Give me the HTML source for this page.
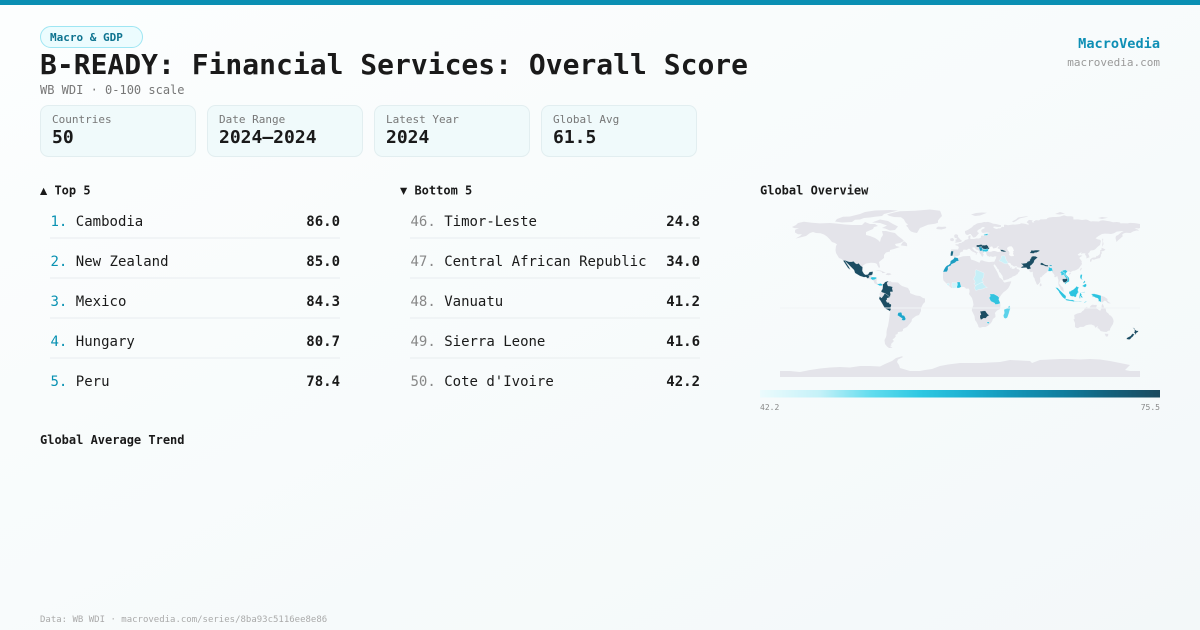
<!DOCTYPE html>
<html><head><meta charset="utf-8">
<style>
html,body{margin:0;padding:0;}
body{width:1200px;height:630px;overflow:hidden;background:#fafcfc;}
svg{display:block;}
text{font-family:"DejaVu Sans Mono","Liberation Mono",monospace;}
.b{font-weight:bold;}
</style></head>
<body>
<svg width="1200" height="630" viewBox="0 0 1200 630" xmlns="http://www.w3.org/2000/svg">
<defs>
<linearGradient id="bg" x1="0" y1="0" x2="1" y2="1">
<stop offset="0" stop-color="#fcfefe"/><stop offset="1" stop-color="#f3f8f9"/>
</linearGradient>
<linearGradient id="cb" x1="0" y1="0" x2="1" y2="0">
<stop offset="0" stop-color="#ecfbfd"/>
<stop offset="0.15" stop-color="#c4f1f8"/>
<stop offset="0.28" stop-color="#60dcee"/>
<stop offset="0.40" stop-color="#2ec8e2"/>
<stop offset="0.52" stop-color="#1cb0d1"/>
<stop offset="0.63" stop-color="#1496b8"/>
<stop offset="0.76" stop-color="#0f7d9d"/>
<stop offset="0.88" stop-color="#14607a"/>
<stop offset="1" stop-color="#1b4a5f"/>
</linearGradient>
</defs>
<rect width="1200" height="630" fill="url(#bg)"/>
<rect width="1200" height="5" fill="#0a8fb3"/>

<!-- badge -->
<rect x="40.5" y="26.5" width="102" height="21" rx="10.5" fill="#ecfcfe" stroke="#9ee6f3" stroke-width="1"/>
<text x="50" y="41" font-size="11" class="b" fill="#0e7490">Macro &amp; GDP</text>

<text x="40" y="74" font-size="28" class="b" fill="#1a1a1a">B-READY: Financial Services: Overall Score</text>
<text x="40" y="94" font-size="12" fill="#777">WB WDI · 0-100 scale</text>

<text x="1160" y="48" font-size="13.6" class="b" fill="#0e8fb5" text-anchor="end">MacroVedia</text>
<text x="1160" y="66" font-size="11" fill="#9a9a9a" text-anchor="end">macrovedia.com</text>

<!-- cards -->
<g fill="#f0fafb" stroke="#e2eef0" stroke-width="1">
<rect x="40.5" y="105.5" width="155" height="51" rx="8"/>
<rect x="207.5" y="105.5" width="155" height="51" rx="8"/>
<rect x="374.5" y="105.5" width="155" height="51" rx="8"/>
<rect x="541.5" y="105.5" width="155" height="51" rx="8"/>
</g>
<g font-size="11" fill="#777">
<text x="52" y="123">Countries</text>
<text x="219" y="123">Date Range</text>
<text x="386" y="123">Latest Year</text>
<text x="553" y="123">Global Avg</text>
</g>
<g font-size="18" class="b" fill="#1a1a1a">
<text x="52" y="143">50</text>
<text x="219" y="143">2024–2024</text>
<text x="386" y="143">2024</text>
<text x="553" y="143">61.5</text>
</g>

<!-- section headers -->
<g font-size="12" class="b" fill="#1a1a1a">
<text x="40" y="194.5">▲ Top 5</text>
<text x="400" y="194.5">▼ Bottom 5</text>
<text x="760" y="194.5">Global Overview</text>
<text x="40" y="444">Global Average Trend</text>
</g>

<!-- separators -->
<g stroke="#eef1f3" stroke-width="1.5">
<line x1="50" y1="238" x2="340" y2="238"/><line x1="50" y1="278" x2="340" y2="278"/>
<line x1="50" y1="318" x2="340" y2="318"/><line x1="50" y1="358" x2="340" y2="358"/>
<line x1="410" y1="238" x2="700" y2="238"/><line x1="410" y1="278" x2="700" y2="278"/>
<line x1="410" y1="318" x2="700" y2="318"/><line x1="410" y1="358" x2="700" y2="358"/>
</g>

<g font-size="14" fill="#1a1a1a">
<text x="50.5" y="226"><tspan fill="#0891b2">1. </tspan>Cambodia</text>
<text x="50.5" y="266"><tspan fill="#0891b2">2. </tspan>New Zealand</text>
<text x="50.5" y="306"><tspan fill="#0891b2">3. </tspan>Mexico</text>
<text x="50.5" y="346"><tspan fill="#0891b2">4. </tspan>Hungary</text>
<text x="50.5" y="386"><tspan fill="#0891b2">5. </tspan>Peru</text>
<text x="410.5" y="226"><tspan fill="#888">46. </tspan>Timor-Leste</text>
<text x="410.5" y="266"><tspan fill="#888">47. </tspan>Central African Republic</text>
<text x="410.5" y="306"><tspan fill="#888">48. </tspan>Vanuatu</text>
<text x="410.5" y="346"><tspan fill="#888">49. </tspan>Sierra Leone</text>
<text x="410.5" y="386"><tspan fill="#888">50. </tspan>Cote d'Ivoire</text>
</g>
<g font-size="14" class="b" fill="#1a1a1a" text-anchor="end">
<text x="340" y="226">86.0</text><text x="340" y="266">85.0</text><text x="340" y="306">84.3</text>
<text x="340" y="346">80.7</text><text x="340" y="386">78.4</text>
<text x="700" y="226">24.8</text><text x="700" y="266">34.0</text><text x="700" y="306">41.2</text>
<text x="700" y="346">41.6</text><text x="700" y="386">42.2</text>
</g>

<!-- map -->
<g transform="translate(960,293) scale(1,-1)">
<g fill="#e4e4ea">
<polygon points="-168,66 -164,68 -162,70 -156,71.3 -148,70.3 -140,69.6 -130,70 -124,69.5 -115,68.5 -108,68 -98,68 -95,71 -90,69 -85,69 -82,67 -86,66 -87,64 -94,61 -94,58 -90,57 -85,55 -82,53 -80,51 -79,55 -77,58 -78,62 -74,62 -70,61 -65,60 -62,57 -58,54 -56,52 -60,50 -65,49 -64,47 -60,46 -66,44 -70,43 -70,41.5 -74,40.5 -76,38 -76,35 -81,31 -80,26 -81,25 -82.5,27.5 -83,29 -85,30 -89,30.3 -94,29.5 -97,27.5 -97.5,22 -96,19 -94,18 -91,19 -90.5,21 -87,21.5 -88,18 -88.5,16 -84,15.8 -83.2,15 -83.5,11 -82,9 -79,9.5 -77.4,8.6 -78,7.3 -80.5,7.3 -82.5,8.2 -85.7,9.8 -86,11.5 -87.5,13 -91.5,14 -94,16 -96,15.7 -100,17 -105,20 -106,23 -109,26 -112,29 -114.8,31.8 -113,29 -111,26 -109.5,23 -112,25 -114,28 -116,31 -117,32.5 -118.5,34 -121,35 -122.5,37.5 -124,40 -124.5,43 -124,47 -123,48.5 -125,50 -128,51 -130.5,54 -133,56.5 -136,58.5 -139.5,59.8 -144,60 -147,61 -150,60 -152,58.5 -154,57 -158,56 -162,55 -164.5,54.5 -160,57 -158,58.7 -162,58.7 -165,60.5 -165,62.5 -164.5,63.5 -161,64.5 -166,65 -168,66"/>
<polygon points="-77.4,8.6 -76,9.5 -75,11 -72,12 -71,11 -70,12 -68,10.7 -64,10.6 -62,10.5 -60,8.5 -58,7 -55,6 -52,5 -50,1.5 -50,0 -48,-1 -44,-2.5 -40,-3 -37,-5 -35,-5.5 -35,-9 -37,-11 -39,-15 -39,-18 -41,-22 -44,-23 -48,-26 -48.5,-28.5 -50.5,-31 -53,-34 -55,-35 -57,-36 -57,-37.5 -58,-38.5 -62,-39 -62.5,-41 -65,-42 -64,-43 -65.5,-45 -67.5,-46.5 -66,-48 -69,-51 -68.5,-52.5 -70,-53 -67.5,-54.8 -71,-55 -73,-53.5 -75,-51 -75.5,-47 -74,-44 -73.5,-42 -73.5,-39 -73,-36 -72,-33 -71.5,-30 -71,-27 -70.5,-23 -70,-18.5 -71.5,-17.3 -75,-15.5 -76.5,-13 -78.5,-9.5 -80,-7 -81,-6 -80.5,-4 -80,-2.5 -80.5,-1 -80,0.5 -79,1.5 -78.5,2.5 -77.5,4 -77.2,7 -77.4,8.6"/>
<polygon points="-17,21 -17,15 -16.5,12.5 -15,11 -13,9 -11,7 -8,4.5 -5,5 -2,4.8 1,5.8 3,6.3 5,5.5 6,4.3 8.5,4.5 9.5,3 9.5,1 9,-1 10.5,-3 12,-5 13,-8.5 13.5,-12 12,-15.5 11.8,-17.5 13.5,-21 14.5,-23 15,-27 16.5,-29 18,-32 18.5,-34 20,-34.8 22.5,-34 25.5,-34 28,-32.7 30.5,-30.5 32,-28.5 32.9,-26 35.5,-24 35.3,-21.5 34.8,-20 37,-17.5 40,-16 40.5,-12 39.5,-8 39,-6 39.5,-4.5 41.5,-1.5 43.5,0.8 46,2.5 48,4.5 49.5,7 51,10.5 51.2,11.8 48,11.2 44.5,10.4 43.3,11.5 43,12.5 41,14.5 39.5,15.5 38.5,18 37.2,21 35.5,24 34,26.5 32.6,29.5 32.3,31.2 29,30.9 25,31.6 22,32.8 20.5,32.5 19.5,30.3 15,32.3 11,33.5 10,37 8,37 3,36.8 -1,35.5 -2,35 -5.5,35.8 -6.5,34 -9.5,32 -9.8,29.5 -11.5,28 -13,27.5 -14.5,26 -16,23.5 -17,21"/>
<polygon points="-9,37 -9.5,39 -8.8,42 -9,43.5 -6,43.6 -2,43.5 -1.5,44.5 -1.2,46 -2.5,47.3 -4.5,47.8 -4.5,48.7 -1.5,48.7 -1.3,49.7 1.5,50.2 2.5,51.1 4,51.6 5,53 7,53.5 8.5,54 8.3,55.5 8.5,57 10.5,57.7 10.5,56 10,54.8 11,54 14,54 16.5,54.6 19,54.5 21,55.5 21,57 22,57.6 23.5,57 24.5,58.5 23.5,59.2 28,59.5 30,60 27,60.5 22.8,60 21.5,61 21.3,63 23,64 25,65 24,66 22,65.7 21,64.6 19,63.6 17.5,62.5 17.3,61 19,60 18.5,59.3 16.5,57 15.8,56.1 14,55.5 12.8,55.8 12.5,56.6 11,58.5 11,59 9.5,59 8,58 6.5,58.2 5.5,59 5,60.5 5,62 6.5,62.5 8.5,63.5 10,64.5 12,65.8 13.5,67.5 15.5,68.5 17,69.5 19,70 21.5,70.3 24,71 26,70.9 28,71.1 31,70.3 33,69.4 36,69 41,67.7 41,66.2 38,66 34,66.5 33,65.8 34.8,64.5 37,64 38,64.6 40.3,64.6 42,66.3 44,66 44,68.3 46,68.2 48,67.7 53,68.5 55,68.4 58,68.8 60,69 61,69.8 65,69.3 68.3,68.2 69,69 66.7,70.6 67.3,71.5 68.5,72.8 69.3,73.1 72,72.8 72.8,72.2 71.8,71.4 72.8,70.4 74.3,70.7 73.4,71.8 75.5,72.3 75,72.8 76,72.9 79,72.6 80.5,73.6 83,73.6 86.8,73.9 87,74.6 89,75.5 93,76 96,76 100,76.4 104,77.7 107,76.8 111,76.7 113.3,76.2 113.5,73.5 118,73.6 122,73 126,73.5 128,73 129,72.2 131,71.5 132.5,71.8 136,71.6 139,71.5 140.5,72.4 143,72.7 150,71.6 153,70.8 157,71 160,70.5 160.5,69.6 163,69.7 167.5,69.6 170,70.1 175,69.9 180,69 180,65 178.5,64.5 177,64.7 174.5,64.6 178,63.4 179,62.3 176.5,62.5 173,61.5 170.5,60 166,60.3 164.5,59.9 163,59.2 162,58 163,57 162,56.1 160,54.3 158,52.6 156.5,51 155.5,55 156,57 158,58 161,60.5 163.7,62 160,61.7 156.7,61.4 154,59.8 151,59 148,59.3 145,59.4 142,59 138.5,57 135.5,54.7 137.5,53.8 140,53.2 141,52 140.5,50 140,48 138,46.5 136,44.5 135,43.5 133,42.8 131,42.6 130,42 129.5,40.8 128,39.4 129,37.5 129.5,35.8 127,34.7 126.3,34.5 126.5,36 126,37.5 125,38 125.5,39.5 124,39.8 122,39.5 121,38.8 121.6,40.9 120,40 118.5,39 117.6,38.5 119,37.3 120.8,37.8 122.5,37.2 120.5,36.1 119.3,35 120.5,33.5 121.8,31.7 121.5,30.4 122,29.8 121.5,28 120.5,27 119.5,25.5 118.7,24.5 117.3,23.6 116,22.9 114.2,22.3 113,22.2 111.5,21.5 110.5,20.4 109.8,21.4 108.5,21.7 106.7,20.7 105.9,19.8 105.7,18.8 107,17.3 108.3,16 109,15.3 109.3,13.5 109.2,11.6 108.3,11 106.7,10.4 105,8.6 104.8,9.6 105,10.5 103.5,10.6 102.6,12.2 101.7,12.7 100.9,12.6 100,13.4 100,12.3 99.2,10.3 99.2,9.2 100.3,8.3 101,6.9 102.1,6.2 103.3,4.9 103.5,2.8 104.2,1.6 103.5,1.2 101.4,2.8 100.3,4 100.2,5.3 98.5,7.9 98.3,10 98.5,13 97.8,14.8 97.6,16.1 97.2,16.9 95.4,15.7 94.2,16 94.6,17.3 94.3,18.2 93.5,19.4 92.4,20.7 92.1,21.2 91.8,22.2 90.3,21.8 89.7,22 88.9,21.7 87,21.5 86.5,20.2 85.1,19.5 83.9,18.3 82.2,17 82.2,16.6 81,15.5 80.3,15.9 80,15.1 80.2,13.8 80.3,11.7 79.9,10.4 79.3,10.3 78.9,9.6 79.2,9.2 78.3,8.9 77.5,8 76.6,8.9 75.7,11.3 74.9,12.7 74.6,14.6 73.5,16 73,17.9 72.8,19.2 72.8,20.4 72.6,21.4 71.2,20.8 70.5,20.9 69.2,22.1 69.6,22.5 69.3,22.8 68.2,23.7 67.4,23.9 66.4,25.4 64.5,25.2 62,25.2 61.5,25.1 59.6,25.4 57.4,25.7 56.5,27.1 55.7,26.9 54.7,26.5 53.5,26.8 52.5,27.6 51.5,27.9 50.1,30.1 49.6,30 48.9,30.3 48,30 47.7,29.4 48.4,28.6 48.8,27.7 49.3,27.5 49.5,27 50.2,26.7 50.1,25.9 50.5,25.3 50.8,24.8 51,26 51.6,25.8 51.6,25.2 51.6,24.2 52.6,24.2 54,24.1 55.4,25.4 56.1,26.1 56.4,26.4 56.5,25 56.4,24.9 57.4,23.9 58.7,23.6 59.5,22.7 59.8,22.3 59.3,21.4 58.5,20.4 58,20.5 57.8,19.1 57.7,18.9 56.6,18.6 56.3,17.9 55.3,17.6 55.3,17.2 54.2,17 53.6,16.7 52.4,16.4 52.2,15.9 51.2,15.2 49.6,14.7 48.7,14 47.4,13.6 45.9,13.3 45.1,12.9 44,12.6 43.5,12.6 43.2,13.2 43.3,13.8 43,14.6 42.6,15.7 42.8,16.3 42.3,17.1 42,17.9 41.2,18.7 40.9,19.5 40.2,20.2 39.1,21.3 39,22 38.5,23.7 37.5,24.3 37.2,25.1 36.6,26 36.2,26.6 35.6,27.4 35.1,28.1 34.6,28.1 34.9,29.4 34.2,28.4 33.9,27.6 33.1,28.4 32.4,29.9 32.3,31.3 34.3,31.2 35,32.8 35.5,33.9 36,34.6 35.9,35.4 36.7,36.3 35.6,36.6 34.7,36.8 34,36.2 32.5,36.1 30.6,36.7 29.7,36.1 28.7,36.7 27.6,36.7 27,37.7 26.3,38.2 26.8,39 26.2,39.5 26.2,40.4 26,40.8 24.9,40.9 23.7,40.7 24,40.1 23.3,39.9 22.8,40.5 22.8,39.7 23.4,39.2 23,39 24,38.2 24,37.7 23.1,37.9 23.4,37.4 22.8,37.3 23.2,36.4 22.5,36.4 21.7,36.8 21.3,37.6 21.1,38.3 20.2,39.3 19.4,40.3 19.3,41.9 18.5,42.6 17.5,42.9 16,43.5 15.2,44.2 15.4,45 14.6,45.6 13.7,45.1 13.9,45.6 13.1,45.7 12.3,45.4 12.6,44.1 13.5,43.6 14,42.8 15.1,42 16,41.9 15.9,41.5 17.5,40.9 18.5,40.2 17.7,40.3 16.9,40.4 16.4,39.8 17.2,39.4 16.6,38.8 16.1,38 15.7,38 15.9,38.8 16.1,39.5 15,40.2 14.1,40.8 12.9,41.3 12.1,41.7 11.2,42.4 10.5,43 10.2,43.9 8.9,44.4 7.9,43.8 6.5,43.1 4.6,43.4 3.1,43.1 3,42.5 3.2,41.9 2.1,41.2 0.8,41 0.1,40.1 -0.3,39.3 0.1,38.7 -0.7,37.6 -1.4,37.4 -2.1,36.7 -4.4,36.7 -5.4,35.9 -6.2,36.4 -6.5,36.9 -7.5,37.1 -8.4,37 -9,37"/>
<polygon points="-5.7,50 1.4,51.2 1.7,52.7 0.2,53.5 -0.5,54.5 -1.6,55.6 -2.1,56.9 -1.8,57.6 -3.1,58.6 -5,58.6 -5.8,57.8 -5.6,56.3 -6.2,56.8 -5,55 -3.4,54.9 -3,53.8 -4.6,53.5 -4.3,52.3 -5.3,51.7 -3.4,51.4 -5.7,50"/>
<polygon points="-6.3,52.2 -6,53.9 -7.6,55.1 -9.9,54.2 -9.6,52.2 -7.6,51.7"/>
<polygon points="-24,64.9 -22,66.4 -18,66.1 -14.5,66.4 -13.6,65.1 -15,64.4 -18.7,63.5 -22.8,63.9"/>
<polygon points="-73,78.5 -66,80.5 -60,81.8 -45,82.3 -30,83.5 -20,82.2 -19,80 -18,77 -20,75 -22,72.5 -22,70.2 -25,69.3 -32,68.3 -38,65.8 -40,65 -43,60 -46,60.5 -49,61.5 -51,63.5 -52,65.5 -54,67.2 -52,68.5 -54,70 -55,71.5 -56,73.5 -59,75.8 -66,76 -71,77.3"/>
<polygon points="-125,71.5 -123,74 -117,76.2 -110,76.5 -106,77.5 -100,79 -95,81 -85,82.5 -70,83 -62,82.5 -70,80.5 -76,79 -78,77 -85,76.3 -90,75.5 -96,75 -100,73.5 -105,73.3 -108,71 -118,70.5"/>
<polygon points="-80,73.5 -72,72 -67,69 -62,66.5 -65,63 -70,62.5 -75,64.5 -78,65 -73,67.5 -80,70 -88,70.5"/>
<polygon points="-59.3,47.6 -52.8,46.7 -53,49.5 -55.5,51.6 -57.3,50.7"/>
<polygon points="-85,21.9 -82,22.7 -79,22.4 -76,21 -74.2,20.2 -77.7,19.9 -78.4,21.4 -81,22"/>
<polygon points="-74.5,18.4 -72.7,19.9 -70,19.7 -68.4,18.6 -71.4,17.7"/>
<polygon points="11,78.5 16,80 22,80.5 27,80.2 20,77.5 15,77"/>
<polygon points="52,71.5 56,73.6 58,75.5 66,76.8 68.5,76.5 60,74.6 56,72 53.5,70.8"/>
<polygon points="95,79 100,81 105,79.5 100,78.5"/>
<polygon points="138,75 142,76 148,75.3 142,74"/>
<polygon points="79.8,6.5 81.8,7.5 81,9.7 79.8,9"/>
<polygon points="130,31.2 131.3,31.4 132,33.8 133.9,33.3 135,33.6 136.8,34.3 138.3,34.6 139.9,34.9 140.9,36.9 141,38.5 141.9,39.9 141.4,41.4 140.4,41.4 140,40.5 139.9,39.3 139,38 138.4,37.8 137.2,36.8 136.7,37.3 135.7,35.5 133.7,35.5 132.7,35.4 131,34.4 130,33.3"/>
<polygon points="140,41.5 141.5,41.6 143.5,42 145.5,43.3 144.5,44 141.6,45.4 141.5,43.2 140,42.5"/>
<polygon points="142,46 143.6,49 143,51.5 143.2,54.3 142.2,54.2 142.6,51"/>
<polygon points="120.7,22 121.9,25 121,25.2 120.1,23.5"/>
<polygon points="108.6,19.2 110.6,20.1 111,19.6 109.5,18.2"/>
<polygon points="144.7,-40.7 148.3,-40.9 148,-43.2 146,-43.6"/>
<polygon points="131,-1 134.1,-0.8 137.4,-1.5 141,-2.6 144.6,-3.9 146,-5 147.6,-6 147.2,-7.4 148.7,-9.1 150.8,-10.3 149.7,-10.4 147.9,-10.1 146,-8.1 144.7,-7.6 143.3,-8.2 143.4,-9 142.6,-9.3 141,-9.1 139.1,-8.1 138.1,-8.4 138.7,-7.3 138.4,-6.2 137.9,-5.4 135.2,-4.5 133.7,-3.5 132.3,-4.1 132.8,-2.8 131.8,-2.8 132.4,-2.2"/>
<polygon points="114.2,-22 114.6,-26 113.5,-26.5 115,-30 115,-34 116.7,-35 118,-35.1 120,-33.9 123.6,-33.9 126,-32.3 129,-31.6 131.3,-31.5 134.3,-32.6 135.5,-34.9 137.8,-32.9 137.5,-35.1 139,-35.7 140.6,-38 143.6,-38.8 146.3,-39 148.3,-37.8 150,-37.4 150.1,-35.7 151.7,-33 153,-31 153.6,-28.1 153.1,-26 152.3,-24.5 150.8,-22.6 149.6,-22.3 148.3,-20.4 146.4,-19 145.9,-16.9 145.4,-15 144,-14.3 143.2,-11.9 142.5,-10.7 141.7,-12.4 141.5,-15 140.4,-17.6 139.3,-17.4 137.8,-16.2 135.9,-15.2 136.9,-12.4 136.4,-11.9 134.6,-12 132.6,-11.6 131.3,-12.2 130.1,-13.5 129.4,-14.9 128,-14.9 127,-13.8 125.2,-14.5 124.4,-16.3 123.6,-17.4 122.2,-18.2 121,-19.7 119.3,-20 117,-20.6 115.5,-21.4"/>
<polygon points="115,-8.4 119,-8.6 122.8,-8.1 120,-9 115,-8.8"/>
<polygon points="-180,-84 -180,-78 -170,-78 -160,-79 -150,-77 -140,-75.5 -130,-74.5 -120,-74 -110,-74.5 -100,-73 -90,-73 -80,-73.5 -75,-71 -68,-68 -64,-65 -58,-63.3 -57,-64 -62,-66.5 -63,-69 -61,-72 -60,-75 -50,-78 -40,-78 -35,-77 -28,-76 -20,-73 -12,-71.5 0,-70 10,-70 20,-70 30,-69.5 40,-69 50,-67 60,-67.5 70,-68 72,-70 80,-67 90,-66.5 100,-66 110,-66 120,-66.5 130,-66 140,-66.5 150,-68 160,-70 165,-71 170,-72 168,-74 165,-77 170,-78 180,-78 180,-84"/>
</g>
<g fill="#fafcfc">
<polygon points="27.8,42 28.5,43.5 29.6,45.2 31,46.6 33,46 32.5,45.4 33.5,44.5 35.5,45 36.5,45.3 38,47 39.3,47 38,46 37.5,44.7 40,43.5 41.5,41.5 38,41 35,42 33,42 31,41.2 29,41.2"/>
<polygon points="47,45 47.5,43 49,41.5 49.5,40 49,38 51,36.8 54,37 53,39.5 53.5,40.7 52.8,41.8 54,42 53,45 51.5,46.8 49,46.5"/>
</g>
<!-- colored countries -->
<g stroke="#ffffff" stroke-width="0.25">
<polygon fill="#1b4d63" points="-117,32.5 -114.8,32.6 -111,31.3 -108.2,31.3 -106.5,31.7 -104.5,29.6 -103,29 -101.4,29.8 -99.5,27.5 -97.4,25.9 -97.6,22 -96,19.2 -94.5,18.2 -92,18.6 -90.5,21 -87,21.5 -87.5,18.5 -88.8,17.8 -91.4,17.3 -90.4,16.1 -92.2,14.5 -94,16 -96,15.7 -100,17 -105,20 -106,23 -109,26 -112,29 -114.8,31.8 -113,29 -111,26 -109.5,23 -112,25 -114,28 -116,31"/>
<polygon fill="#2cc4e0" points="-89.3,15 -88.3,16 -84,15.8 -83.2,15 -85,13.5 -87.5,13 -89.3,14.4"/>
<polygon fill="#2cc4e0" points="-82.9,8.1 -82,9 -79.5,9.6 -77.4,8.6 -78,7.3 -80.5,7.3 -81.7,8"/>
<polygon fill="#1b4d63" points="-77.4,8.6 -76,9.5 -75,11 -72,12 -71.3,11.5 -72.4,11 -73,9.5 -72.4,8 -72,7 -70,6.9 -67.3,6.1 -67.8,4.5 -67.3,2.5 -67,1.2 -69.8,1.1 -69.4,-1.2 -70,-4.2 -72,-2.5 -73.7,-1.3 -75.3,-0.2 -77.4,0.4 -79,1.5 -78.5,2.5 -77.5,4 -77.2,7"/>
<polygon fill="#1b4d63" points="-81,-6 -80.5,-4 -80.3,-3.4 -78.5,-5 -76.6,-2.6 -75.3,-0.2 -73.7,-1.3 -72,-2.5 -70,-4.2 -73,-5.3 -73,-7 -74,-7.4 -73,-9.4 -70.6,-9.5 -70.5,-11 -69,-11 -68.7,-12.6 -69.6,-15 -69,-16 -70,-18.3 -71.5,-17.3 -75,-15.5 -76.5,-13 -78.5,-9.5 -80,-7"/>
<polygon fill="#1ea6cb" points="-62.6,-22.3 -61.8,-19.6 -59,-19.3 -58.2,-20 -57.9,-22.1 -55.7,-22.6 -55,-24 -54.3,-25.5 -54.7,-27.3 -56.5,-27.5 -58.6,-27.1 -57.6,-25.6 -60,-24"/>
<polygon fill="#1b6a85" points="-9.5,37 -7.4,37.2 -7,39 -6.5,41.7 -8.2,42 -8.9,41.8 -9.4,39.4"/>
<polygon fill="#1c9dc2" points="-17,21 -16,23.5 -14.5,26 -13,27.5 -11.5,28 -9.8,29.5 -9.5,32 -6.5,34 -5.5,35.8 -2,35 -1.7,33.7 -1.2,32.1 -3.7,31.6 -5,30.2 -8.7,28.7 -8.7,27.7 -12,26 -12,23.5 -13,21.3"/>
<polygon fill="#2bbfdd" points="-3.2,5.1 -1,5 1.2,6.1 0.5,8.5 0,11 -2.9,11 -2.6,8.2 -3.2,6.3"/>
<polygon fill="#d2f3f9" points="-8.5,4.5 -3.2,5.1 -3.2,6.3 -2.6,8.2 -2.9,10 -5.4,10.4 -8,10.4 -8.2,7.6 -7.5,4.5"/>
<polygon fill="#d2f3f9" points="-13.2,8.2 -11.3,7 -10.3,8.5 -11,10 -13,9.5"/>
<polygon fill="#c6eff7" points="13.5,13.5 14.5,13 15.3,9.9 13.9,9.6 15.5,7.5 18.5,8.9 21.5,10.5 23.4,11.2 22,12.7 22.3,14 23.7,15.7 24,19.5 24,20 16,23.4 15,21 15.5,20 15.3,17.5 14,15"/>
<polygon fill="#c6eff7" points="14.5,5 16,2.2 18.5,3.5 22.4,4 25,5.2 27.4,5.2 25,7.2 23.4,8.9 22.8,10.6 21.5,10.5 18.5,8.9 15.5,7.5"/>
<polygon fill="#ccf1f8" points="39,32.2 41,34.4 41.3,37 42.4,37.2 44.8,37.2 45.5,35 46.2,33 47.7,31 48,30 46.5,29.1 44.7,29.2 42,31"/>
<polygon fill="#33c3df" points="29.6,-1.3 30.8,-1 33.9,-1 37.7,-3.1 39.2,-4.7 38.7,-6.5 39.4,-8 40.3,-10.3 38,-11.2 35.3,-11.5 34.5,-10 32.8,-9.2 30.7,-8.3 30.2,-7 29.5,-5.9 29.3,-4.5 30.5,-3"/>
<polygon fill="#1b4d63" points="20,-18 20.9,-18.3 23.2,-17.9 25.3,-17.7 26.4,-19.5 28,-21.5 29.4,-22.1 27,-23.6 25.8,-25.2 23.3,-25.3 22,-26.3 20.8,-26.8 20,-24.8 20,-22 21,-22"/>
<polygon fill="#2cc4e0" points="27,-29 29.3,-29 29.2,-30.3 28,-30.6 27,-29.7"/>
<polygon fill="#5bd2ea" points="49.5,-12.5 50.5,-15.2 49.8,-17 48.9,-20.3 47.7,-23.8 47.1,-24.9 45.4,-25.6 44,-24.9 43.3,-22.8 43.8,-21.2 44.4,-20.1 44.2,-18.6 44,-17 44.4,-16.2 46.3,-15.8 47.7,-14.6 48.7,-13.3"/>
<polygon fill="#1b4d63" points="16.1,46.8 16.5,47.5 17,48 18.8,48 20.5,48.5 22.1,48.4 22.7,47.9 21.7,46.6 20.3,46.1 18.8,45.9 17.6,45.9"/>
<polygon fill="#1b4d63" points="22.7,47.9 24.9,47.7 26.6,48.2 28.2,46.6 28.6,45.3 29.6,45 28.6,43.7 27.3,44.1 25.6,43.7 22.7,44.2 22.5,45 21.5,45.2 20.3,46.1 21.7,46.6"/>
<polygon fill="#1c9dc2" points="18.8,45.9 20.3,46.1 21.5,45.2 22.5,45 22.4,44 23,43.5 22.4,42.3 21.5,42.2 20.6,41.9 19.6,42.8 19.4,44.3 19,44.9"/>
<polygon fill="#2cc4e0" points="22.4,44 22.9,43.8 25.6,43.7 27.3,44.1 28.6,43.7 28,42 26.1,41.3 24,41.6 22.9,41.3 22.4,42.3 23,43.5"/>
<polygon fill="#2cc4e0" points="23.5,58.2 28,59.5 27.4,57.6 24,57.6"/>
<polygon fill="#1b4d63" points="40,43.4 42.4,43.2 44,42.6 46.6,41.8 45,41.2 43.6,41.1 42.5,41.5 41.5,41.5"/>
<polygon fill="#1b4d63" points="69.5,40 70.7,41.2 71.2,42.7 73.5,42.5 75.5,42.9 78.5,42.9 80.2,42.1 78.2,41.2 76.5,40.4 74.8,40.4 73.5,39.5 71,39.8"/>
<polygon fill="#1b4d63" points="61,25 61.7,25 64,25.3 66.4,25.4 67.4,23.9 68.2,23.7 71,24.4 70,27 71.5,28 73.8,30.5 74.5,32.7 75.8,34 77.8,35.5 75.5,36.7 73,36.9 71.3,36.1 71.1,34.7 70,34 69.5,33.1 70.3,33.4 69.3,31.9 67.8,31.6 66.5,30 62.5,29.5 60.9,29.8 61.8,28.7 62.8,28 63.3,26.8 61.8,26.5"/>
<polygon fill="#1b4d63" points="80.1,28.8 81.5,27.9 84,27.5 85.2,26.7 88,26.4 88.2,27.9 86,28 84.2,28.8 82.3,30.1 81,30.2"/>
<polygon fill="#2cc4e0" points="88.1,22 89,21.7 90.3,21.8 91.8,22.2 92.4,21 92.6,22.5 92.2,24.2 91.6,25.1 89.8,25.3 89.3,26 88.5,26.4 88.7,24.5"/>
<polygon fill="#1c9dc2" points="89,27.3 92,26.9 92,27.8 90,28.3"/>
<polygon fill="#2cc4e0" points="102.2,22.5 105.5,23.2 107.5,21.6 106.7,20.7 105.9,19.8 105.7,18.8 107,17.3 108.3,16 109,15.3 109.3,13.5 109.2,11.6 108.3,11 106.7,10.4 105,8.6 104.8,9.6 105,10.5 106,11 107.5,12.4 107.4,14.2 107.6,15.2 106.5,16.5 105.1,18.4 104,19.2 104.8,19.9 104,20.7 103,20.8"/>
<polygon fill="#3fcbe5" points="100.1,20.4 101.2,21.4 102.2,22.5 103,20.8 104,20.7 104.8,19.9 104,19.2 105.1,18.4 106.5,16.5 107.6,15.2 107.4,14.2 106.5,14.6 105.5,14.1 105.6,15.6 104.8,16.4 103.9,18.2 102.6,17.8 101,17.5 101.3,19.5"/>
<polygon fill="#1b4d63" points="102.6,12.2 102.3,13.4 103,14.2 105.5,14.1 106.5,14.6 107.4,14.2 107.5,12.4 106,11 105,10.5 104.3,10.5 103.5,10.6"/>
<polygon fill="#2cc4e0" points="120.6,18.5 122.3,18.5 122,16.5 121.7,14.3 124,13 123,13.4 121,13.7 120.6,14.4 120,16"/>
<polygon fill="#2cc4e0" points="122,7 125,5.6 126.5,7 126.3,9.3 125,9 123.5,8"/>
<polygon fill="#2cc4e0" points="123,10 124.5,12.5 125.5,11 123.5,9.5"/>
<polygon fill="#2cc4e0" points="95.3,5.6 97.5,5.2 100.4,2.2 103.8,-1 106,-3 105.8,-5.8 104.5,-5.8 102.6,-4.2 100.9,-2 99.3,0.2 98.6,1.8"/>
<polygon fill="#2cc4e0" points="105.2,-6.8 106.1,-6 108.5,-6.4 110.5,-6.9 112.6,-6.9 114.6,-7.8 114.4,-8.7 111,-8.1 108.5,-7.8 106.4,-7.4"/>
<polygon fill="#2cc4e0" points="109,1.5 110.5,1.7 111.8,2.8 113,3.2 114.5,4.5 115.5,5.4 116.7,6.9 117.7,6 119.2,5.4 118,4.3 117.9,1.8 119,0.9 117.5,0.1 117.5,-0.8 116.5,-1.5 116.5,-2.5 116,-4 114.9,-4.1 113.8,-3.4 112,-3.5 111,-3 110.2,-2.9 110,-1.6 109.1,-0.5"/>
<polygon fill="#2cc4e0" points="119.4,-5.4 120.4,-5.5 120.4,-3 121.5,-4.6 122.8,-4.9 122.2,-3.4 121.1,-2 122.5,-0.7 123.3,-0.6 121,-1 120.9,0.5 124,0.9 125,1.6 124.4,0.4 120.2,0.2 119.8,-0.8 119.4,-3.3"/>
<polygon fill="#2cc4e0" points="115,-8.4 119,-8.6 122.8,-8.1 120,-9 115,-8.8"/>
<polygon fill="#2cc4e0" points="123.6,-10.2 125,-9.5 127.3,-8.4 125.1,-8.6"/>
<polygon fill="#2cc4e0" points="131,-1 134.1,-0.8 137.4,-1.5 141,-2.6 141,-9.1 139.1,-8.1 138.1,-8.4 138.7,-7.3 138.4,-6.2 137.9,-5.4 135.2,-4.5 133.7,-3.5 132.3,-4.1 132.8,-2.8 131.8,-2.8 132.4,-2.2"/>
<polygon fill="#1b4d63" points="172.6,-34.4 174.3,-35.3 175.4,-37 176.8,-37.9 178.5,-37.7 177.9,-39.2 176.9,-39.4 175.3,-41.6 174.6,-41.3 175.1,-40.3 173.8,-39.5 174.6,-38.8 174.6,-36.6"/>
<polygon fill="#1b4d63" points="172.8,-40.5 174.3,-41.3 173.3,-43 172.7,-43.8 171.2,-44.9 170.6,-45.9 169.3,-46.6 166.7,-46.2 166.6,-45.1 168.3,-44.1 170.5,-43 171.5,-41.8 172.1,-41"/>
</g>
</g>
<line x1="780" y1="308" x2="1140" y2="308" stroke="#f1f4f6" stroke-width="1"/>

<!-- colorbar -->
<rect x="760" y="390" width="400" height="7.5" fill="url(#cb)"/>
<text x="760" y="410" font-size="8" fill="#888">42.2</text>
<text x="1160" y="410" font-size="8" fill="#888" text-anchor="end">75.5</text>

<text x="40" y="622" font-size="9" fill="#aaa">Data: WB WDI · macrovedia.com/series/8ba93c5116ee8e86</text>
</svg>
</body></html>
